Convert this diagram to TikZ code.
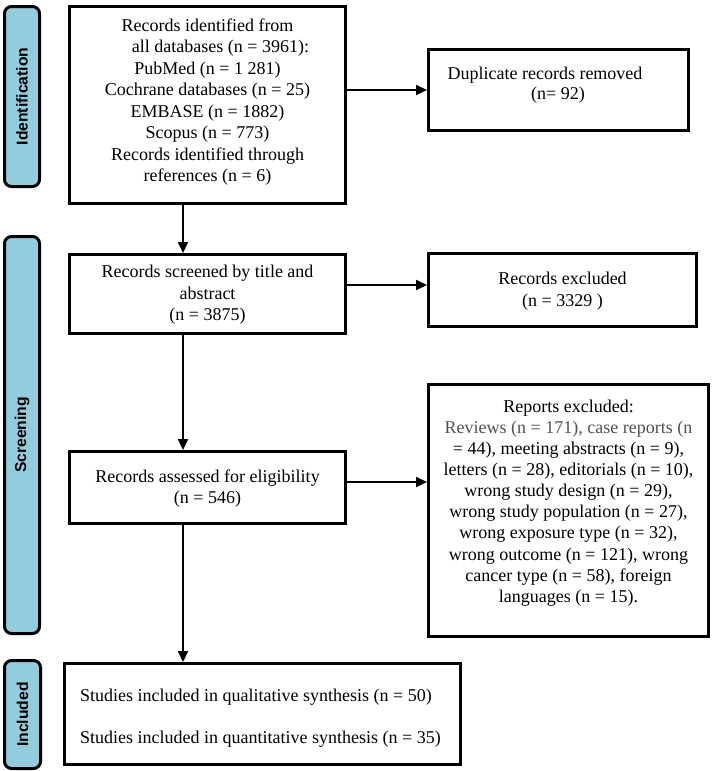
\documentclass[tikz,border=0pt]{standalone}
\usepackage{fontspec}
\setmainfont{Liberation Serif}
\newfontfamily\bandfont{Liberation Sans}
\usetikzlibrary{arrows.meta}
\definecolor{bandblue}{RGB}{147,205,221}
\definecolor{revgray}{RGB}{80,80,80}
\begin{document}
\begin{tikzpicture}[x=1pt,y=-1pt,
  box/.style={draw,line width=3pt,rectangle,inner sep=0pt},
  band/.style={draw,line width=3pt,fill=bandblue,rounded corners=7pt,inner sep=0pt,rotate=90,
    font=\bandfont\bfseries\fontsize{15.7}{18}\selectfont},
  txt/.style={font=\fontsize{18}{21.5}\selectfont,align=center,inner sep=0pt},
  arr/.style={line width=2pt,-{Triangle[length=11pt,width=10pt]}}]
\useasboundingbox (0,0) rectangle (716,771);

% phase bands
\node[band,minimum width=180pt,minimum height=35pt] (bid) at (22,96.5) {Identification};
\node[band,minimum width=397pt,minimum height=35pt] (bscr) at (22,435) {Screening};
\node[band,minimum width=108pt,minimum height=36pt] (binc) at (22.5,714.5) {Included};

% boxes
\node[box,minimum width=276pt,minimum height=197pt] (idb) at (207.5,105) {};
\node[box,minimum width=260pt,minimum height=81pt] (dup) at (558.5,90) {};
\node[box,minimum width=276pt,minimum height=79pt] (scr) at (207.5,294) {};
\node[box,minimum width=268pt,minimum height=73pt] (exc) at (562.5,290) {};
\node[box,minimum width=276pt,minimum height=72pt] (ass) at (207.5,487.5) {};
\node[box,minimum width=280pt,minimum height=252pt] (rep) at (568.5,510.5) {};
\node[box,minimum width=396pt,minimum height=101pt] (inc) at (262.5,714) {};

% texts
\node[txt] (tidb) at (207.5,102) {Records identified from\\
\hspace*{26pt}all databases (n = 3961):\\
PubMed (n = 1 281)\\
Cochrane databases (n = 25)\\
EMBASE (n = 1882)\\
Scopus (n = 773)\\
Records identified through\\
references (n = 6)};
\node[txt,font=\fontsize{18}{20}\selectfont] (tdup) at (545,85) {Duplicate records removed\\
\hspace*{26pt}(n= 92)};
\node[txt] (tscr) at (207.5,295) {Records screened by title and\\ abstract\\ (n = 3875)};
\node[txt] (texc) at (562.5,291) {Records excluded\\ (n = 3329 )};
\node[txt] (tass) at (207.5,488.5) {Records assessed for eligibility\\ (n = 546)};
\node[txt,font=\fontsize{18}{21.1}\selectfont] (trep) at (568.5,503) {Reports excluded:\\
{\color{revgray}Reviews (n = 171), case reports (n}\\
= 44), meeting abstracts (n = 9),\\
letters (n = 28), editorials (n = 10),\\
wrong study design (n = 29),\\
wrong study population (n = 27),\\
wrong exposure type (n = 32),\\
wrong outcome (n = 121), wrong\\
cancer type (n = 58), foreign\\
languages (n = 15).};
\node[txt,align=left,anchor=west,font=\fontsize{18}{42}\selectfont] (tinc) at (80,718.5) {Studies included in qualitative synthesis (n = 50)\\
Studies included in quantitative synthesis (n = 35)};

% connectors
\coordinate (spine) at (183,0);
\coordinate (ya) at (0,285);
\coordinate (yb) at (0,482);
\draw[arr] (idb.south -| spine) -- (scr.north -| spine);
\draw[arr] (scr.south -| spine) -- (ass.north -| spine);
\draw[arr] (ass.south -| spine) -- (inc.north -| spine);
\draw[arr] (idb.east |- dup.west) -- (dup.west);
\draw[arr] (scr.east |- ya) -- (exc.west |- ya);
\draw[arr] (ass.east |- yb) -- (rep.west |- yb);
\end{tikzpicture}
\end{document}
